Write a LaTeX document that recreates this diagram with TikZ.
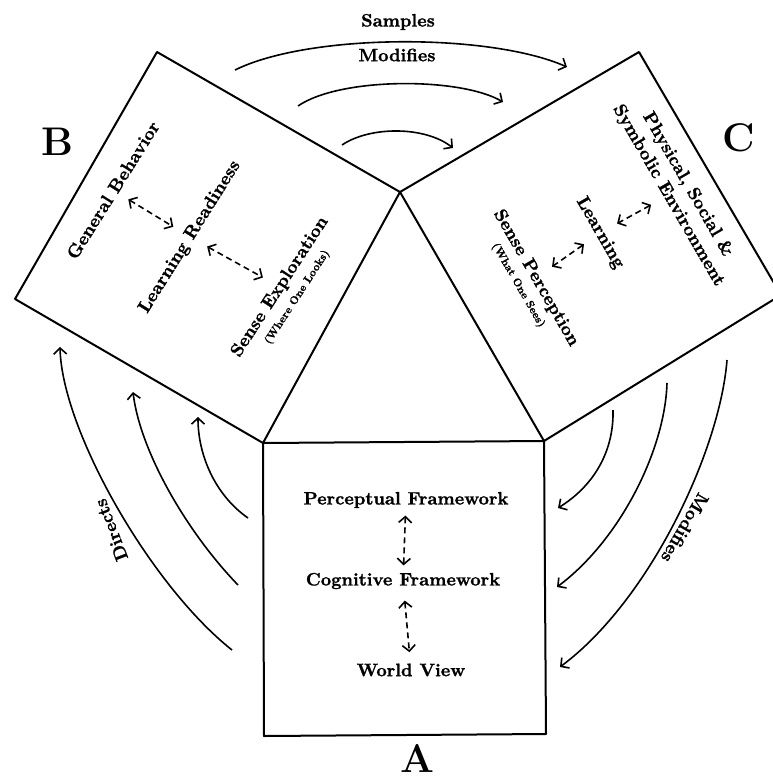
\documentclass[tikz,border=0pt]{standalone}
\usepackage{fontspec}
\usepackage{tikz}
\usepackage{xcolor}
\usetikzlibrary{
    arrows,
    arrows.meta,
    shapes,
    positioning,
    calc
}
\newfontfamily\heavy{lmroman10-bold.otf}[FakeBold=1.2]

\begin{document}
\begin{tikzpicture}[x=1pt, y=-1pt,
        >={Straight Barb[length=6pt,width=13pt]},
        box/.style={line width=2pt, line join=round},
        lbl/.style={font=\fontsize{18}{22}\selectfont\heavy, align=center},
        small/.style={font=\fontsize{11}{13}\selectfont\heavy},
        big/.style={font=\fontsize{40}{44}\selectfont\bfseries, inner sep=0pt},
        link/.style={<->, line width=1.6pt, dash pattern=on 6pt off 4pt},
        flow/.style={->, line width=1.6pt}
    ]
                \useasboundingbox (0,0) rectangle (773,779);
                \clip (0,0) rectangle (773,779);

                % corners of the three squares
                \coordinate (apex) at (400,192);
                \coordinate (a1) at (263,443);
                \coordinate (a2) at (544,441);
                \coordinate (a3) at (546,734);
                \coordinate (a4) at (264,736);
                \coordinate (b1) at (15,299);
                \coordinate (b2) at (157,52);
                \coordinate (c1) at (781,295);
                \coordinate (c2) at (639,52);

                \draw[box] (a1) -- (a2) -- (a3) -- (a4) -- cycle;
                \draw[box] (apex) -- (a1) -- (b1) -- (b2) -- cycle;
                \draw[box] (apex) -- (a2) -- (c1) -- (c2) -- cycle;

                % square A
                \node[lbl] (perc) at (406,500) {Perceptual Framework};
                \node[lbl] (cog) at (403,581) {Cognitive Framework};
                \node[lbl] (wv) at (411,670) {World View};
                \draw[link, shorten <=4pt, shorten >=4pt] (perc) -- (cog);
                \draw[link, shorten <=8pt, shorten >=8pt] (cog) -- (wv);

                % square B
                \node[lbl, rotate=58] (gb) at (113,190) {General Behavior};
                \node[lbl, rotate=58] (lr) at (190,237) {Learning Readiness};
                \node[lbl, rotate=57] (se) at (280,287) {Sense Exploration};
                \node[small, rotate=57, below=-1pt of se] (wol) {(Where One Looks)};
                \draw[link, shorten <=8pt, shorten >=8pt] (gb) -- (lr);
                \draw[link, shorten <=8pt, shorten >=8pt] (lr) -- (se);

                % square C
                \node[lbl, rotate=-60] (phys) at (678,190) {Physical, Social \&\\Symbolic Environment};
                \node[lbl, rotate=-60] (learn) at (600,233) {Learning};
                \node[lbl, rotate=-60] (sp) at (536,278) {Sense Perception};
                \node[small, rotate=-60, below=-3pt of sp] (wos) {(What One Sees)};
                \draw[link, shorten <=8pt, shorten >=8pt] (phys) -- (learn);
                \draw[link, shorten <=8pt, shorten >=8pt] (learn) -- (sp);

                % letters
                \node[big] (nA) at (417,758) {A};
                \node[big] (nB) at (57,142) {B};
                \node[big] (nC) at (739,138) {C};

                % labels on the arcs
                \node[lbl] (samp) at (398,22) {Samples};
                \node[lbl] (modt) at (397,55) {Modifies};
                \node[lbl, rotate=111] (dir) at (111,530) {Directs};
                \node[lbl, rotate=240] (modr) at (685,528) {Modifies};

                % ends of the arcs
                \coordinate (t1) at (235,70);   \coordinate (t1e) at (567,67);
                \coordinate (t2) at (298,106);  \coordinate (t2e) at (503,102);
                \coordinate (t3) at (342,145);  \coordinate (t3e) at (453,148);
                \coordinate (l1) at (232,650);  \coordinate (l1e) at (60,347);
                \coordinate (l2) at (238,585);  \coordinate (l2e) at (133,392);
                \coordinate (l3) at (248,518);  \coordinate (l3e) at (198,417);
                \coordinate (r1) at (613,410);  \coordinate (r1e) at (558,508);
                \coordinate (r2) at (667,383);  \coordinate (r2e) at (557,587);
                \coordinate (r3) at (727,360);  \coordinate (r3e) at (560,667);

                \draw[flow] (t1) .. controls (310,33) and (490,33) .. (t1e);
                \draw[flow] (t2) .. controls (340,77) and (460,77) .. (t2e);
                \draw[flow] (t3) .. controls (370,126) and (425,126) .. (t3e);

                \draw[flow] (l1) .. controls (150,585) and (62,430) .. (l1e);
                \draw[flow] (l2) .. controls (185,530) and (140,450) .. (l2e);
                \draw[flow] (l3) .. controls (215,495) and (198,455) .. (l3e);

                \draw[flow] (r1) .. controls (614,450) and (595,485) .. (r1e);
                \draw[flow] (r2) .. controls (665,450) and (620,540) .. (r2e);
                \draw[flow] (r3) .. controls (720,450) and (650,600) .. (r3e);

\end{tikzpicture}
\end{document}
